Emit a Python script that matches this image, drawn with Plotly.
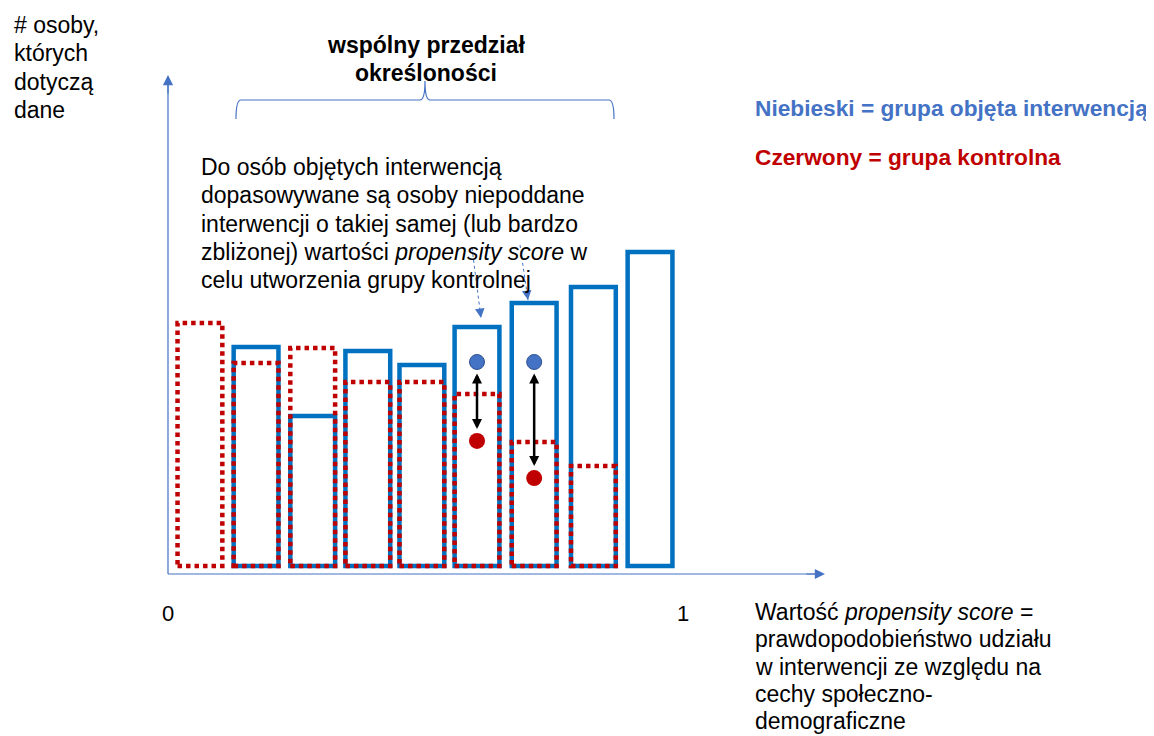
import plotly.graph_objects as go

# ---------------- data ----------------
# propensity-score bin centres (0..1) and heights (# persons)
bin_centers = [0.062, 0.171, 0.281, 0.388, 0.493, 0.600, 0.711, 0.826, 0.936]
treated_counts = [None, 73.0, 50.0, 71.7, 67.0, 79.7, 87.7, 93.0, 104.7]   # blue, solid
control_counts = [81.0, 67.7, 72.7, 61.3, 61.3, 57.3, 41.3, 33.3, None]    # red, dotted
bin_width = 0.087

# matched pairs (shown with dots and double arrows)
match_x = [0.600, 0.711]
match_treated_y = [68.0, 68.0]
match_control_y = [41.7, 29.3]

# common support span (brace)
support_span = [0.132, 0.866]

x_tick_labels = ["0", "1"]
x_tick_values = [0.0, 1.0]

BLUE = "#0070C0"
RED = "#C00000"
LIGHT_BLUE = "#4472C4"
FONT = "Liberation Sans, Arial, sans-serif"

OFF = 8                      # page body margin
W, H = 1154 - OFF, 736 - OFF
# page-pixel geometry of the data frame
X_PX0, X_PX1 = 168.0, 683.0      # score 0 and score 1
Y_PX0 = 566.0                    # count 0
PX_PER_COUNT = 3.0
sx = (X_PX1 - X_PX0)
x_range = [-(X_PX0 - OFF) / sx, (W - (X_PX0 - OFF)) / sx]
y_range = [-(H - (Y_PX0 - OFF)) / PX_PER_COUNT, (Y_PX0 - OFF) / PX_PER_COUNT]


def dx(px):
    return px / sx


def dy(px):
    return px / PX_PER_COUNT


def pxp(x):
    return (x - OFF) / W


def pyp(y):
    return 1 - (y - OFF) / H


fig = go.Figure()
shapes = []

# blue treated bars
for c, h in zip(bin_centers, treated_counts):
    if h is None:
        continue
    shapes.append(dict(type="rect", xref="x", yref="y", layer="below",
                       x0=c - bin_width / 2, x1=c + bin_width / 2, y0=0, y1=h,
                       line=dict(color=BLUE, width=4.5), fillcolor="rgba(0,0,0,0)"))
# red dotted control bars
for c, h in zip(bin_centers, control_counts):
    if h is None:
        continue
    shapes.append(dict(type="rect", xref="x", yref="y", layer="below",
                       x0=c - bin_width / 2, x1=c + bin_width / 2, y0=0, y1=h,
                       line=dict(color=RED, width=4.5, dash="4.5px,4px"),
                       fillcolor="rgba(0,0,0,0)"))

# brace over common support
xl, xr = support_span
xc = (xl + xr) / 2
y_mid = dy(Y_PX0 - 100)
y_end = dy(Y_PX0 - 119)
y_tip = dy(Y_PX0 - 81)
r = dx(5)
brace = (f"M{xl},{y_end} Q{xl},{y_mid} {xl + r},{y_mid} L{xc - r},{y_mid} "
         f"Q{xc},{y_mid} {xc},{y_tip} Q{xc},{y_mid} {xc + r},{y_mid} "
         f"L{xr - r},{y_mid} Q{xr},{y_mid} {xr},{y_end}")
shapes.append(dict(type="path", xref="x", yref="y", path=brace,
                   line=dict(color=LIGHT_BLUE, width=1.2)))

# axis lines
axis_y = -dy(8)
y_top = dy(Y_PX0 - 75)
x_end = (825 - X_PX0) / sx
fig.add_trace(go.Scatter(x=[0, 0], y=[axis_y, y_top - dy(2)], mode="lines",
                         line=dict(color=LIGHT_BLUE, width=1.2), hoverinfo="skip"))
fig.add_trace(go.Scatter(x=[0, x_end - dx(2)], y=[axis_y, axis_y], mode="lines",
                         line=dict(color=LIGHT_BLUE, width=1.2), hoverinfo="skip"))

annotations = []
annotations.append(dict(x=0, y=y_top, ax=0, ay=y_top - dy(20), xref="x", yref="y",
                        axref="x", ayref="y", text="", showarrow=True, arrowhead=2,
                        arrowsize=1.7, arrowwidth=1.2, arrowcolor=LIGHT_BLUE))
annotations.append(dict(x=x_end, y=axis_y, ax=x_end - dx(20), ay=axis_y, xref="x",
                        yref="y", axref="x", ayref="y", text="", showarrow=True,
                        arrowhead=2, arrowsize=1.7, arrowwidth=1.2,
                        arrowcolor=LIGHT_BLUE))

# matched dots
fig.add_trace(go.Scatter(x=match_x, y=match_treated_y, mode="markers",
                         marker=dict(size=15, color=LIGHT_BLUE,
                                     line=dict(color="#2F528F", width=1)),
                         hoverinfo="skip"))
fig.add_trace(go.Scatter(x=match_x, y=match_control_y, mode="markers",
                         marker=dict(size=16, color=RED, line=dict(color=RED, width=0)),
                         hoverinfo="skip"))
for mx, ty, cy in zip(match_x, match_treated_y, match_control_y):
    top = ty - dy(10)
    bot = cy + dy(12)
    annotations.append(dict(x=mx, y=bot, ax=mx, ay=top, xref="x", yref="y",
                            axref="x", ayref="y", text="", showarrow=True,
                            arrowhead=2, arrowsize=0.8, arrowwidth=2.5,
                            arrowside="end+start", arrowcolor="black"))

# thin dashed pointer arrows from the text to the matched bars
pointer_starts = [(472, 248), (520, 245)]
pointer_tips = [(481, 318), (528, 300)]
for (sxp, syp), (txp, typ) in zip(pointer_starts, pointer_tips):
    x0, y0 = (sxp - X_PX0) / sx, dy(Y_PX0 - syp)
    x1, y1 = (txp - X_PX0) / sx, dy(Y_PX0 - typ)
    fig.add_trace(go.Scatter(x=[x0, x1], y=[y0, y1], mode="lines",
                             line=dict(color=LIGHT_BLUE, width=1, dash="3px,3px"),
                             hoverinfo="skip"))
    fx = x1 - (x1 - x0) * 0.15
    fy = y1 - (y1 - y0) * 0.15
    annotations.append(dict(x=x1, y=y1, ax=fx, ay=fy, xref="x", yref="y",
                            axref="x", ayref="y", text="", showarrow=True,
                            arrowhead=2, arrowsize=1.9, arrowwidth=1,
                            arrowcolor=LIGHT_BLUE))


def text(x, y, s, size=23, color="black", bold=False, xanchor="left"):
    if bold:
        s = f"<b>{s}</b>"
    annotations.append(dict(x=pxp(x), y=pyp(y), xref="paper", yref="paper", text=s,
                            showarrow=False, xanchor=xanchor, yanchor="middle",
                            borderpad=0, font=dict(family=FONT, size=size, color=color)))


# y label
for i, line in enumerate(["# osoby,", "których", "dotyczą", "dane"]):
    text(13, 25 + i * 28.4, line)

# title
text(426, 45, "wspólny przedział", bold=True, xanchor="center")
text(426, 73, "określoności", bold=True, xanchor="center")

# explanatory text
block = ["Do osób objętych interwencją",
         "dopasowywane są osoby niepoddane",
         "interwencji o takiej samej (lub bardzo",
         "zbliżonej) wartości <i>propensity score</i> w",
         "celu utworzenia grupy kontrolnej"]
for i, line in enumerate(block):
    text(200, 167 + i * 28.3, line)

# legend texts
text(754, 108, "Niebieski = grupa objęta interwencją", size=22.7, color=LIGHT_BLUE,
     bold=True)
text(754, 157, "Czerwony = grupa kontrolna", size=22.7, color=RED, bold=True)

# x tick labels
for v, lab in zip(x_tick_values, x_tick_labels):
    annotations.append(dict(x=v, y=pyp(613), xref="x", yref="paper", text=lab,
                            showarrow=False, xanchor="center", yanchor="middle",
                            font=dict(family=FONT, size=22, color="black")))

# x label
xlab = ["Wartość <i>propensity score</i> =",
        "prawdopodobieństwo udziału",
        "w interwencji ze względu na",
        "cechy społeczno-",
        "demograficzne"]
for i, line in enumerate(xlab):
    text(754, 612 + i * 27.3, line)

fig.update_layout(
    width=W, height=H,
    margin=dict(l=0, r=0, t=0, b=0),
    paper_bgcolor="white", plot_bgcolor="white",
    showlegend=False,
    shapes=shapes,
    annotations=annotations,
    xaxis=dict(range=x_range, visible=False, fixedrange=True),
    yaxis=dict(range=y_range, visible=False, fixedrange=True),
)

fig.write_html("out.html")
